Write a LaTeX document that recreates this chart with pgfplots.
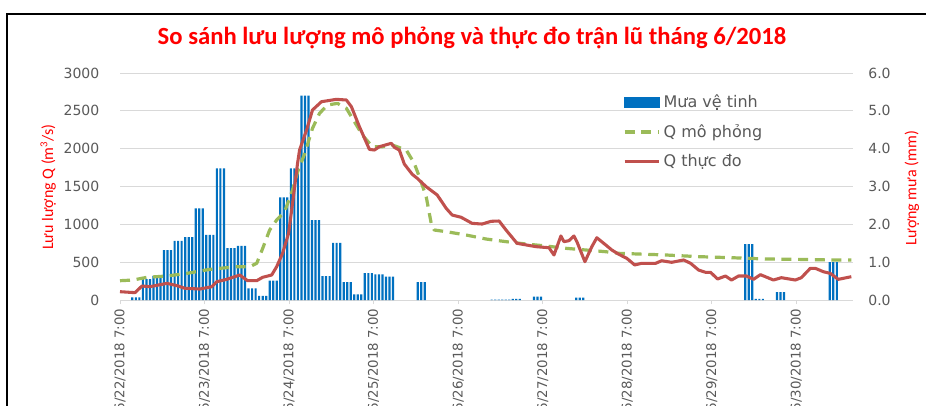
\documentclass[border=0pt]{standalone}
\usepackage{pgfplots}
\pgfplotsset{compat=1.18}
\usepackage{pgfplotstable}
\usepackage{fontspec}
\setmainfont{Carlito}
\newfontfamily\dejavu{DejaVu Sans}
\definecolor{barblue}{RGB}{0,112,192}
\definecolor{qred}{RGB}{192,80,77}
\definecolor{qgreen}{RGB}{155,187,89}
\definecolor{gridgray}{RGB}{217,217,217}
\definecolor{labgray}{RGB}{89,89,89}
\definecolor{titlered}{RGB}{255,0,0}
\pgfplotsset{linelegend/.style={legend image code/.code={\draw[##1] (0pt,0pt) -- (26pt,0pt);}}}

\pgfplotstableread{
t r
0.125 0.07
0.250 0.55
0.375 0.64
0.500 1.32
0.625 1.56
0.750 1.66
0.875 2.42
1.000 1.72
1.125 3.48
1.250 1.37
1.375 1.43
1.500 0.31
1.625 0.11
1.750 0.51
1.875 2.71
2.000 3.48
2.125 5.40
2.250 2.11
2.375 0.63
2.500 1.51
2.625 0.47
2.750 0.15
2.875 0.71
3.000 0.68
3.125 0.62
3.500 0.47
4.375 0.01
4.500 0.01
4.625 0.03
4.875 0.09
5.375 0.06
7.375 1.48
7.500 0.03
7.750 0.21
8.375 1.00
}\rain

\begin{document}
\begin{tikzpicture}[x=0.75pt,y=0.75pt]
\useasboundingbox (0,0) rectangle (926,405);
\clip (0,0) rectangle (926,405);
\draw[line width=1.5pt] (6.5,-5) -- (6.5,391) -- (935,391);
\node[text=titlered, font=\bfseries\fontsize{18.5}{22}\selectfont] at (472,367)
  {So sánh lưu lượng mô phỏng và thực đo trận lũ tháng 6/2018};

% rain bars (right axis)
\begin{axis}[
  at={(90pt,78.75pt)}, anchor=south west,
  width=549.75pt, height=170.25pt, scale only axis,
  xmin=0, xmax=8.67, ymin=0, ymax=6,
  axis x line*=bottom, axis y line*=right,
  x axis line style={draw=gridgray, line width=0.75pt, -},
  y axis line style={draw=none},
  xtick={0,1,...,8},
  xticklabels={6/22/2018 7:00,6/23/2018 7:00,6/24/2018 7:00,6/25/2018 7:00,6/26/2018 7:00,6/27/2018 7:00,6/28/2018 7:00,6/29/2018 7:00,6/30/2018 7:00},
  xticklabel style={rotate=90, anchor=east, font=\dejavu\fontsize{10}{12}\selectfont, text=labgray},
  tick align=outside, major tick length=3pt,
  xtick style={draw=gridgray, line width=0.75pt},
  ytick={0,1,...,6},
  ytick style={draw=none},
  yticklabel style={font=\dejavu\fontsize{10.5}{12}\selectfont, text=labgray, xshift=5pt, /pgf/number format/.cd, fixed, fixed zerofill, precision=1},
  /pgf/number format/assume math mode=true,
  ymajorgrids, major grid style={draw=gridgray, line width=0.75pt},
  ylabel={Lượng mưa (mm)},
  ylabel style={at={(axis description cs:1.0805,0.493)}, anchor=center, rotate=0, text=titlered, font=\fontsize{12}{14}\selectfont},
  clip=false,
]
\addplot[ybar, bar width=0.026, bar shift=0pt, fill=barblue, draw=none] table[x expr=\thisrow{t}+0.02083, y=r]{\rain};
\addplot[ybar, bar width=0.026, bar shift=0pt, fill=barblue, draw=none] table[x expr=\thisrow{t}+0.0625, y=r]{\rain};
\addplot[ybar, bar width=0.026, bar shift=0pt, fill=barblue, draw=none] table[x expr=\thisrow{t}+0.10417, y=r]{\rain};
\end{axis}

% discharge lines (left axis)
\begin{axis}[
  at={(90pt,78.75pt)}, anchor=south west,
  width=549.75pt, height=170.25pt, scale only axis,
  xmin=0, xmax=8.67, ymin=0, ymax=3000,
  axis x line=none, axis y line*=left,
  y axis line style={draw=none},
  ytick={0,500,...,3000}, ytick style={draw=none},
  scaled y ticks=false,
  yticklabel style={font=\dejavu\fontsize{10.5}{12}\selectfont, text=labgray, xshift=-12pt, /pgf/number format/.cd, 1000 sep={}},
  /pgf/number format/assume math mode=true,
  ylabel={Lưu lượng Q (m\textsuperscript{3}/s)},
  ylabel style={at={(axis description cs:-0.098,0.498)}, anchor=center, text=titlered, font=\fontsize{12}{14}\selectfont},
  legend style={at={(axis description cs:0.686,0.916)}, anchor=north west, draw=none, fill=none, inner sep=0pt,
    font=\dejavu\fontsize{12}{14}\selectfont, text=labgray, row sep=7pt, cells={anchor=west}},
  legend cell align=left,
]
\addlegendimage{legend image code/.code={\fill[barblue] (0pt,-3.75pt) rectangle (26pt,3.75pt);}}
\addlegendentry{Mưa vệ tinh}
\addplot[qgreen, line width=2.4pt, dash pattern=on 7.5pt off 5pt, line join=round, linelegend] coordinates {
(0,255)(0.153,264)(0.319,300)(0.555,317)(0.791,352)(1.062,405)(1.38,440)(1.534,440)(1.617,485)(1.687,680)(1.770,925)(1.853,1057)(1.947,1167)(2.041,1454)(2.100,1690)(2.183,1930)(2.277,2269)(2.360,2467)(2.454,2577)(2.572,2599)(2.678,2533)(2.773,2356)(2.867,2180)(2.985,2026)(3.103,2026)(3.221,2048)(3.386,1982)(3.481,1806)(3.540,1630)(3.622,1365)(3.681,1013)(3.717,925)(3.858,903)(4.094,859)(4.330,806)(4.566,771)(4.802,740)(5.038,714)(5.274,683)(5.510,661)(5.746,638)(5.900,617)(6.454,595)(6.844,573)(7.233,559)(7.634,542)(8.024,537)(8.413,529)(8.65,529)
};
\addlegendentry{Q mô phỏng}
\addplot[qred, line width=2.3pt, line join=round, linelegend] coordinates {
(0,110)(0.177,97)(0.26,185)(0.354,176)(0.555,220)(0.673,190)(0.767,155)(0.944,145)(1.086,176)(1.145,242)(1.263,273)(1.416,330)(1.510,255)(1.617,255)(1.687,300)(1.794,330)(1.853,440)(1.923,617)(1.994,881)(2.041,1278)(2.100,1806)(2.124,1982)(2.207,2247)(2.277,2511)(2.383,2621)(2.560,2652)(2.678,2643)(2.737,2555)(2.832,2290)(2.950,1991)(3.009,1982)(3.068,2026)(3.209,2071)(3.245,2018)(3.304,1982)(3.363,1797)(3.457,1661)(3.516,1608)(3.622,1497)(3.752,1388)(3.858,1212)(3.929,1123)(4.035,1093)(4.165,1013)(4.283,1004)(4.389,1040)(4.484,1044)(4.566,925)(4.696,749)(4.920,705)(5.074,691)(5.133,595)(5.215,846)(5.251,771)(5.310,784)(5.369,846)(5.404,771)(5.499,506)(5.581,705)(5.640,823)(5.746,727)(5.817,661)(5.900,604)(5.994,551)(6.088,463)(6.171,485)(6.336,485)(6.407,519)(6.525,498)(6.667,529)(6.749,485)(6.844,396)(6.926,366)(6.985,366)(7.068,278)(7.162,317)(7.233,264)(7.316,317)(7.410,317)(7.493,273)(7.575,335)(7.729,264)(7.823,295)(7.988,264)(8.059,295)(8.165,419)(8.224,419)(8.319,374)(8.401,352)(8.496,273)(8.65,308)
};
\addlegendentry{Q thực đo}
\end{axis}
\end{tikzpicture}
\end{document}
